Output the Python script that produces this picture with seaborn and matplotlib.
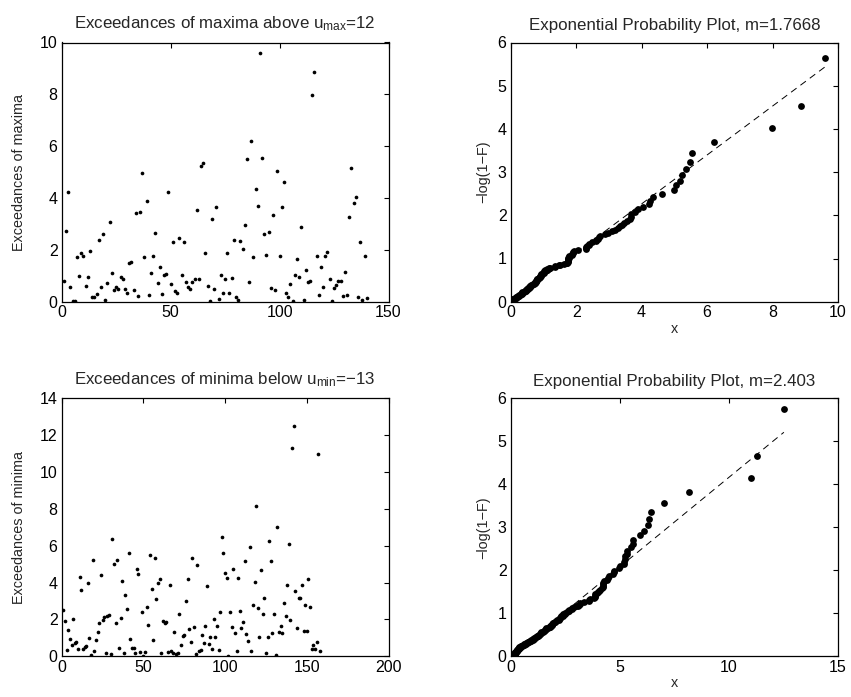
import numpy as np
import pandas as pd
import matplotlib
matplotlib.use("Agg")
import matplotlib.pyplot as plt
import seaborn as sns

# ---- data ----
exc_max = [0.80, 2.72, 4.22, 0.58, 0.03, 0.03, 1.74, 0.99, 1.89, 1.76,
           0.62, 0.94, 1.94, 0.17, 0.19, 0.30, 2.39, 0.58, 2.61, 0.05,
           0.73, 3.09, 1.11, 0.44, 0.57, 0.49, 0.94, 0.89, 0.49, 0.35,
           1.48, 1.52, 0.45, 3.41, 0.22, 3.47, 4.98, 1.71, 3.90, 0.26,
           1.12, 1.76, 2.66, 0.73, 1.35, 0.30, 1.03, 1.06, 4.25, 0.68,
           2.30, 0.40, 0.34, 2.47, 1.04, 2.30, 0.77, 0.56, 0.48, 0.77,
           0.89, 3.54, 0.86, 5.24, 5.35, 1.87, 0.59, 0.03, 3.18, 0.48,
           3.64, 0.09, 1.02, 0.34, 0.86, 1.87, 0.34, 0.93, 2.39, 0.17,
           0.05, 2.33, 2.05, 2.97, 5.49, 0.77, 6.20, 1.71, 4.35, 3.69,
           9.61, 5.55, 2.61, 1.79, 2.70, 0.54, 3.34, 0.46, 5.06, 1.78,
           3.67, 4.61, 0.34, 0.17, 0.70, 0.03, 1.03, 1.63, 0.97, 2.87,
           0.08, 1.21, 0.75, 0.79, 7.98, 8.87, 1.76, 0.26, 1.34, 0.58,
           1.76, 1.90, 0.89, 0.04, 0.53, 0.66, 0.79, 0.79, 0.23, 1.16,
           0.27, 3.28, 5.16, 3.80, 4.05, 0.19, 2.30, 0.07, 1.78, 0.14]

exc_min = [2.50, 1.89, 0.34, 1.41, 0.92, 0.61, 2.04, 0.70, 0.77, 0.40,
           4.29, 3.60, 0.41, 0.50, 0.56, 3.98, 1.01, 0.05, 5.24, 0.31,
           0.88, 1.32, 1.80, 4.43, 1.96, 2.11, 0.16, 2.20, 2.25, 0.13,
           6.36, 5.01, 1.82, 5.24, 0.45, 2.09, 4.07, 0.18, 3.35, 2.58,
           5.62, 0.94, 0.47, 0.47, 0.20, 4.72, 4.45, 0.23, 2.41, 0.04,
           0.25, 2.67, 1.69, 5.50, 3.64, 0.90, 5.35, 3.10, 3.96, 4.22,
           0.20, 1.89, 1.82, 1.87, 0.23, 3.87, 0.31, 0.20, 1.32, 0.13,
           0.18, 2.27, 0.63, 1.12, 1.15, 2.99, 4.22, 1.46, 0.79, 5.33,
           1.57, 0.14, 4.97, 0.31, 0.36, 1.15, 0.72, 1.62, 3.82, 0.65,
           1.06, 0.40, 2.05, 1.06, 1.64, 0.34, 2.40, 6.45, 5.59, 4.52,
           4.23, 0.02, 2.38, 1.57, 4.74, 1.28, 0.29, 4.23, 2.47, 1.51,
           1.84, 5.17, 1.21, 0.83, 5.91, 0.29, 2.79, 4.04, 8.18, 2.63,
           1.03, 4.67, 2.32, 3.19, 0.18, 1.03, 6.27, 5.17, 1.24, 2.29,
           0.05, 7.01, 1.30, 1.62, 1.24, 2.90, 2.20, 3.86, 6.11, 1.96,
           11.28, 12.52, 3.57, 1.53, 3.14, 3.19, 3.87, 1.39, 2.81, 1.37,
           4.17, 2.65, 0.38, 0.59, 0.40, 0.76, 11.00, 0.29]

m_max = 1.7668
m_min = 2.403
u_max = 12
u_min = -13

# ---- styling ----
sns.set_style("white")
plt.rcParams["font.family"] = ["Liberation Sans", "DejaVu Sans"]
plt.rcParams["mathtext.fontset"] = "custom"
plt.rcParams["mathtext.rm"] = "Liberation Sans"
plt.rcParams["mathtext.it"] = "Liberation Sans"
plt.rcParams["axes.unicode_minus"] = True

TICK_FS = 11.5
TITLE_FS = 12.2
LABEL_FS = 10.4

fig = plt.figure(figsize=(8.51, 6.97), dpi=100)
W, H = 851, 697

def add_axes(x0, y0, x1, y1):
    return fig.add_axes([x0 / W, 1 - y1 / H, (x1 - x0) / W, (y1 - y0) / H])

ax_tl = add_axes(61.7, 42.5, 388.5, 301.7)
ax_tr = add_axes(510.7, 42.5, 838.0, 301.7)
ax_bl = add_axes(61.7, 398.3, 388.5, 656.3)
ax_br = add_axes(510.7, 398.3, 838.0, 656.3)

def style(ax):
    for s in ax.spines.values():
        s.set_color("black")
        s.set_linewidth(0.9)
    ax.tick_params(direction="in", length=3.5, width=0.8, top=True, right=True,
                   labelsize=TICK_FS, colors="black")
    ax.tick_params(axis="x", pad=2.5)
    ax.tick_params(axis="y", pad=3)

# left panels
def exceed_panel(ax, vals, xlim, xticks, ylim, yticks, ylabel, title):
    df = pd.DataFrame({"idx": np.arange(1, len(vals) + 1), "val": vals})
    sns.scatterplot(data=df, x="idx", y="val", ax=ax, color="black",
                    s=7, linewidth=0, marker="o", legend=False)
    ax.set_xlim(*xlim)
    ax.set_ylim(*ylim)
    ax.set_xticks(xticks)
    ax.set_yticks(yticks)
    ax.set_xlabel("")
    ax.set_ylabel(ylabel, fontsize=LABEL_FS, labelpad=10)
    ax.set_title(title, fontsize=TITLE_FS, pad=10)
    style(ax)

exceed_panel(ax_tl, exc_max, (0, 150), [0, 50, 100, 150], (0, 10),
             [0, 2, 4, 6, 8, 10], "Exceedances of maxima",
             r"Exceedances of maxima above u$_{\mathrm{max}}$=%d" % u_max)
exceed_panel(ax_bl, exc_min, (0, 200), [0, 50, 100, 150, 200], (0, 14),
             [0, 2, 4, 6, 8, 10, 12, 14], "Exceedances of minima",
             "Exceedances of minima below u$_{\\mathrm{min}}$=\u2212%d" % abs(u_min))

# right panels: exponential probability plots of the same exceedances
def prob_panel(ax, vals, m, xlim, xticks, title):
    x = np.sort(np.asarray(vals))
    n = len(x)
    F = (np.arange(1, n + 1) - 0.5) / n
    y = -np.log(1 - F)
    line = pd.DataFrame({"x": [0, x.max()], "y": [0, x.max() / m]})
    sns.lineplot(data=line, x="x", y="y", ax=ax, color="black",
                 linewidth=0.7, legend=False)
    ax.lines[-1].set_dashes((7, 5))
    sns.scatterplot(x=x, y=y, ax=ax, color="black", s=24, linewidth=0,
                    legend=False, zorder=3)
    ax.set_xlim(*xlim)
    ax.set_ylim(0, 6)
    ax.set_xticks(xticks)
    ax.set_yticks([0, 1, 2, 3, 4, 5, 6])
    ax.set_xlabel("x", fontsize=LABEL_FS, labelpad=1)
    ax.set_ylabel("\u2212log(1\u2212F)", fontsize=LABEL_FS, labelpad=5)
    ax.set_title(title, fontsize=TITLE_FS, pad=9)
    style(ax)

prob_panel(ax_tr, exc_max, m_max, (0, 10), [0, 2, 4, 6, 8, 10],
           "Exponential Probability Plot, m=%s" % m_max)
prob_panel(ax_br, exc_min, m_min, (0, 15), [0, 5, 10, 15],
           "Exponential Probability Plot, m=%s" % m_min)

fig.savefig("out.png", dpi=100)
